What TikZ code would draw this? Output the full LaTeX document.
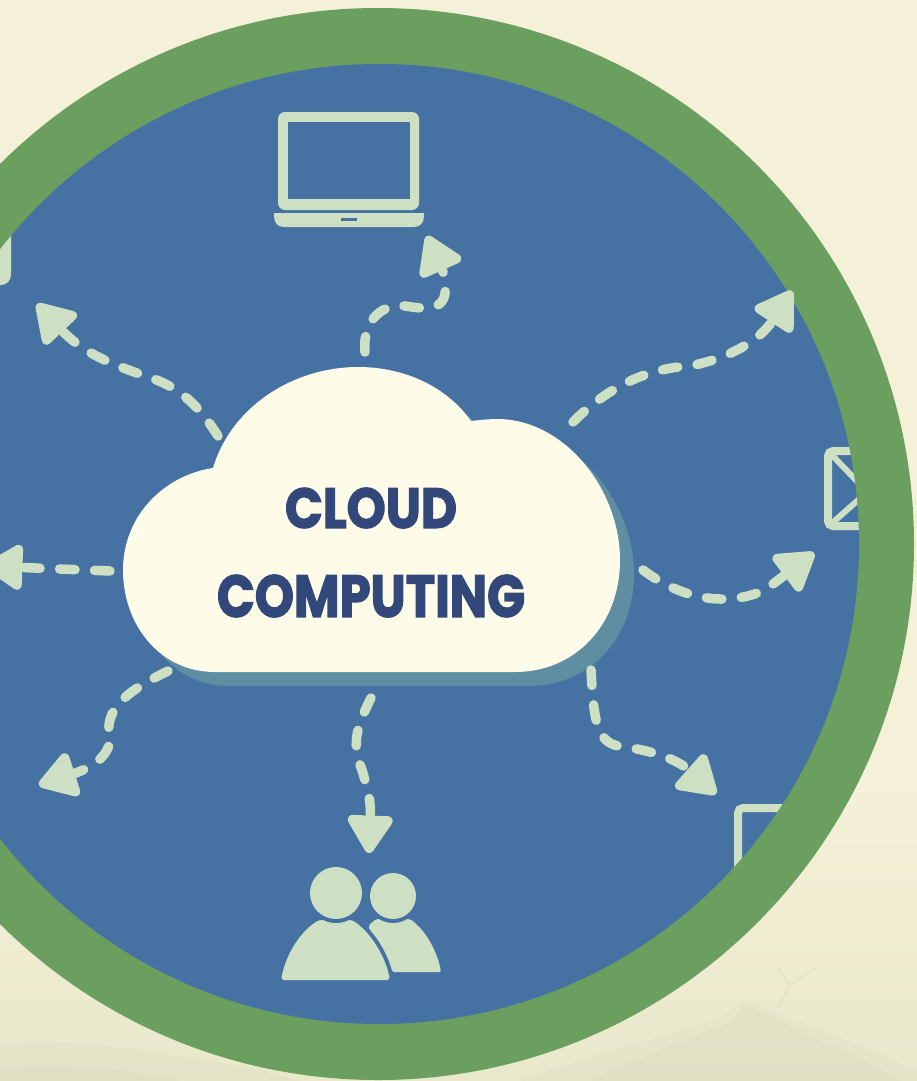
\documentclass[tikz,border=0pt]{standalone}
\usepackage{fontspec}
\usepackage{graphicx}
\setmainfont{Poppins}
\newfontfamily\titlefont[BoldFeatures={FakeBold=2.5}]{Poppins}
\usetikzlibrary{arrows.meta}
\definecolor{bgcream}{HTML}{F5F0D8}
\definecolor{bglow}{HTML}{E9E8CB}
\definecolor{hillc}{HTML}{D8D7BA}
\definecolor{ringgreen}{HTML}{6A9F60}
\definecolor{discblue}{HTML}{4671A3}
\definecolor{pale}{HTML}{CEE0C3}
\definecolor{cloudc}{HTML}{FEFCE9}
\definecolor{cloudshadow}{HTML}{5F8EA3}
\definecolor{inkblue}{HTML}{33487A}
\tikzset{
  flow/.style={draw=pale,line width=9.5pt,line cap=round,dash pattern=on 15.5pt off 19.5pt,
    -{Triangle[width=50pt,length=42pt,round]}},
  iconline/.style={draw=pale,line width=8pt,rounded corners=5pt},
  title/.style={inner sep=0pt,text=inkblue,font=\titlefont\bfseries}
}
\begin{document}
\begin{tikzpicture}[x=1pt,y=-1pt]
\useasboundingbox (0,0) rectangle (917,1081);
% background
\fill[bgcream] (0,0) rectangle (917,1081);
\shade[top color=bgcream,bottom color=bglow,draw=none] (0,780) rectangle (917,1081);
\fill[hillc,opacity=.2] (520,1081) .. controls (600,1050) and (680,1035) .. (725,1015) -- (745,1000) -- (775,1010) .. controls (810,1030) and (860,1040) .. (917,1072) -- (917,1081) -- cycle;
\fill[hillc,opacity=.25] (590,1081) .. controls (640,1055) and (690,1040) .. (730,1022) -- (745,1005) -- (770,1014) .. controls (800,1035) and (850,1050) .. (900,1081) -- cycle;
\fill[hillc,opacity=.25] (0,1081) -- (0,1045) .. controls (60,1035) and (150,1050) .. (260,1070) -- (300,1081) -- cycle;
\fill[hillc,opacity=.25] (0,1081) -- (0,1068) .. controls (60,1062) and (120,1068) .. (180,1081) -- cycle;
\draw[hillc,line width=1.4pt,opacity=.45] (778,1008) -- (790,985) -- (815,968) (790,985) -- (778,968);
% disc
\fill[ringgreen] (378,544) circle (536);
\fill[discblue] (379,544) circle (480);
% clipped icons at the rim
\begin{scope}
\clip (379,544) circle (480);
\fill[pale,rounded corners=10pt] (-40,200) rectangle (11,285);
\draw[iconline] (828,451) rectangle (930,526);
\draw[pale,line width=6pt] (830,453) -- (875,500) (830,525) -- (875,485);
\draw[iconline] (738,808) rectangle (930,960);
\end{scope}
% laptop
\fill[pale,rounded corners=7pt] (278,112) rectangle (419,210);
\fill[discblue] (288,122) rectangle (410,199);
\fill[pale] (274,213) -- (424,213) -- (424,216) .. controls (424,223) and (420,227) .. (414,227) -- (284,227) .. controls (278,227) and (274,223) .. (274,216) -- cycle;
\fill[discblue] (341,218) rectangle (357,221);
% people
\fill[pale,rounded corners=2pt] (368,926) -- (376,919) -- (410,919) .. controls (425,930) and (437,950) .. (441,972) -- (392,972) -- cycle;
\fill[discblue] (393,896) circle (27);
\fill[pale] (393,896) circle (23);
\draw[discblue,line width=8pt,fill=pale,rounded corners=3pt] (281,980) .. controls (287,950) and (303,930) .. (319,920) -- (352,920) .. controls (370,932) and (385,955) .. (390,980) -- cycle;
\fill[pale,rounded corners=3pt] (281,980) .. controls (287,950) and (303,930) .. (319,920) -- (352,920) .. controls (370,932) and (385,955) .. (390,980) -- cycle;
\fill[discblue] (336,893) circle (30);
\fill[pale] (336,893) circle (26);
% cloud
\def\cloudpath{(215,672) .. controls (160,672) and (123,625) .. (123,570) .. controls (123,515) and (165,475) .. (213,468) .. controls (232,405) and (295,367) .. (358,367) .. controls (405,367) and (447,387) .. (471,421) .. controls (480,420) and (490,419) .. (497,419) .. controls (565,419) and (620,490) .. (620,560) .. controls (620,625) and (575,672) .. (515,672) -- cycle}
\fill[cloudshadow,xshift=14pt,yshift=-14pt] \cloudpath;
\fill[cloudc] \cloudpath;
\node[title] (cloudword) at (371,508) {\resizebox{172pt}{40pt}{CLOUD}};
\node[title] (computingword) at (371,596) {\resizebox{308pt}{42pt}{COMPUTING}};
% connector ends
\coordinate (sTop) at (365,352);   \coordinate (eTop) at (427,236);
\coordinate (sUL) at (218,436);    \coordinate (eUL) at (37,304);
\coordinate (sL) at (110,571);     \coordinate (eL) at (-15,566);
\coordinate (sDL) at (168,671);    \coordinate (eDL) at (39,785);
\coordinate (sD) at (371,698);     \coordinate (eD) at (369,853);
\coordinate (sDR) at (591,670);    \coordinate (eDR) at (716,794);
\coordinate (sR) at (643,570);     \coordinate (eR) at (814,553);
\coordinate (sUR) at (573,422);    \coordinate (eUR) at (792,291);
% connectors
\draw[flow] (sTop) .. controls (362,318) and (385,303) .. (405,306) .. controls (430,310) and (453,312) .. (443,272) -- (eTop);
\draw[flow] (sUL) .. controls (195,400) and (175,385) .. (145,376) .. controls (115,365) and (85,355) .. (eUL);
\draw[flow] (sL) -- (eL);
\draw[flow] (sDL) .. controls (125,692) and (103,710) .. (110,740) .. controls (108,760) and (85,770) .. (eDL);
\draw[flow] (sD) .. controls (355,730) and (352,745) .. (362,770) .. controls (368,790) and (371,800) .. (eD);
\draw[flow] (sDR) .. controls (594,725) and (597,745) .. (625,747) .. controls (660,752) and (680,762) .. (eDR);
\draw[flow] (sR) .. controls (680,598) and (725,608) .. (765,590) -- (eR);
\draw[flow] (sUR) .. controls (610,385) and (650,368) .. (690,366) .. controls (730,358) and (760,340) .. (eUR);
\end{tikzpicture}
\end{document}
